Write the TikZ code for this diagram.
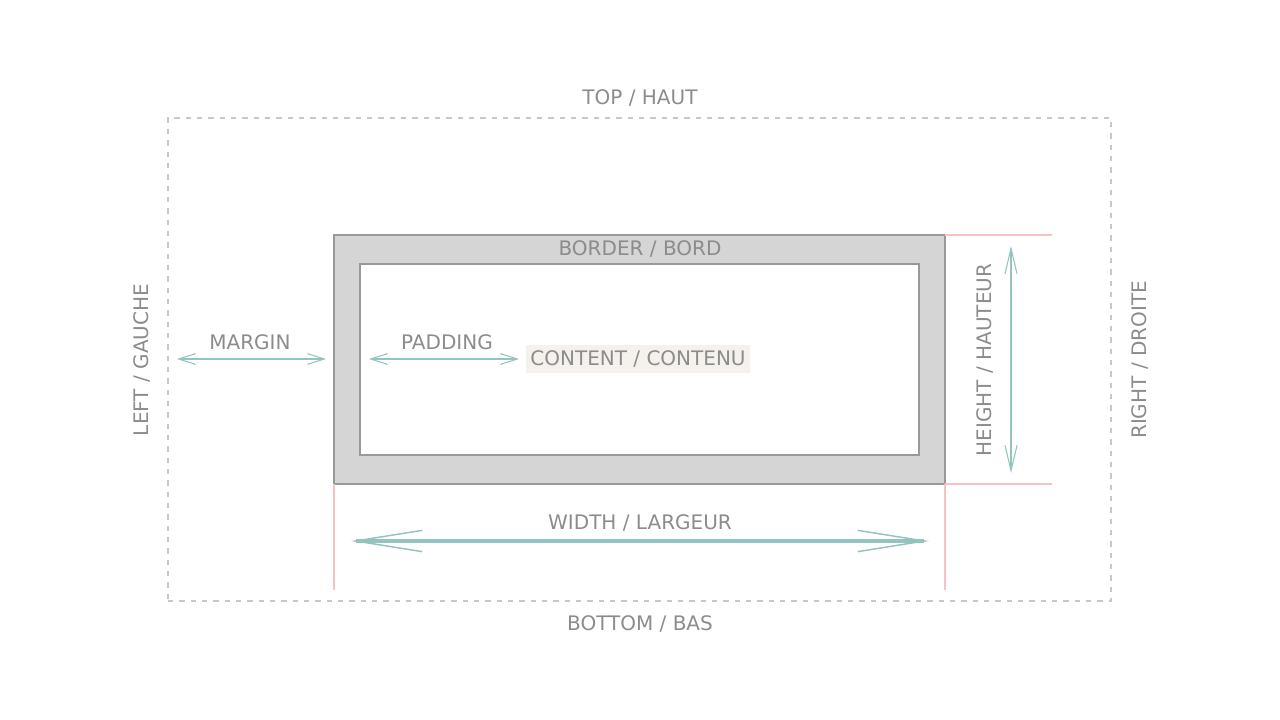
\documentclass[tikz,border=0pt]{standalone}
\usepackage{fontspec}
\setmainfont{DejaVu Sans}
\usetikzlibrary{arrows.meta}
\definecolor{txt}{HTML}{8C8C8C}
\definecolor{teal}{HTML}{93C4C0}
\definecolor{pinkl}{HTML}{F7C2C2}
\definecolor{bfill}{HTML}{D4D5D4}
\definecolor{bline}{HTML}{999999}
\definecolor{dash}{HTML}{C8C8C8}
\definecolor{cbg}{HTML}{F5F1EC}
\tikzset{
  lbl/.style={text=txt, font=\fontsize{15}{18}\selectfont, inner sep=0pt},
  boxshape/.style={draw=bline, line width=1.8pt, inner sep=0pt, outer sep=0pt, anchor=north west},
  guide/.style={draw=pinkl, line width=0.9pt},
  smallarr/.style={draw=teal, line width=1.3pt, {Straight Barb[length=12.5pt, width=8pt, line width=0.8pt]}-{Straight Barb[length=12.5pt, width=8pt, line width=0.8pt]}},
  midarr/.style={draw=teal, line width=1.3pt, {Straight Barb[length=19pt, width=9pt, line width=0.8pt]}-{Straight Barb[length=19pt, width=9pt, line width=0.8pt]}},
  bigarr/.style={draw=teal, line width=2.3pt, {Straight Barb[length=50pt, width=16pt, line width=1.1pt]}-{Straight Barb[length=50pt, width=16pt, line width=1.1pt]}},
}
\begin{document}
\begin{tikzpicture}[x=0.75pt, y=-0.75pt]
\useasboundingbox[fill=white] (0,0) rectangle (1280,720);
% outer dashed box
\node[draw=dash, line width=1.2pt, dash pattern=on 4pt off 4.5pt, inner sep=0pt, outer sep=0pt, anchor=north west,
  minimum width=943*0.75pt, minimum height=483*0.75pt] (outer) at (168,118) {};
% border box
\node[boxshape, fill=bfill, minimum width=611*0.75pt, minimum height=249*0.75pt] (border) at (334,235) {};
\node[boxshape, fill=white, minimum width=559*0.75pt, minimum height=191*0.75pt] (inner) at (360,264) {};
% pink guides
\coordinate (g1) at (1052,235);
\coordinate (g2) at (1052,484);
\coordinate (g3) at (334,590);
\coordinate (g4) at (945,590);
\draw[guide] (border.north east) -- (border.north east -| g1);
\draw[guide] (border.south east) -- (border.south east -| g2);
\draw[guide] (border.south west) -- (border.south west |- g3);
\draw[guide] (border.south east) -- (border.south east |- g4);
% labels
\node[lbl] (top) at (640,98) {TOP / HAUT};
\node[lbl] (bottom) at (640,624) {BOTTOM / BAS};
\node[lbl, rotate=90] (left) at (142,360) {LEFT / GAUCHE};
\node[lbl, rotate=90] (right) at (1140,360) {RIGHT / DROITE};
\node[lbl] (bordlbl) at (640,249) {BORDER / BORD};
\node[lbl] (marglbl) at (250,342) {MARGIN};
\node[lbl] (padlbl) at (447,342) {PADDING};
\node[lbl, fill=cbg, inner xsep=3pt, inner ysep=4pt] (content) at (638,359) {CONTENT / CONTENU};
\node[lbl, rotate=90] (hlbl) at (985,360) {HEIGHT / HAUTEUR};
\node[lbl] (wlbl) at (640,523) {WIDTH / LARGEUR};
% arrows
\coordinate (m1) at (177,359);
\coordinate (m2) at (326,359);
\coordinate (p1) at (369,359);
\coordinate (p2) at (519,359);
\coordinate (h1) at (1011,246);
\coordinate (h2) at (1011,473);
\coordinate (w1) at (351,541);
\coordinate (w2) at (929,541);
\draw[smallarr] (m1) -- (m2);
\draw[smallarr] (p1) -- (p2);
\draw[midarr] (h1) -- (h2);
\draw[bigarr] (w1) -- (w2);
\end{tikzpicture}
\end{document}
